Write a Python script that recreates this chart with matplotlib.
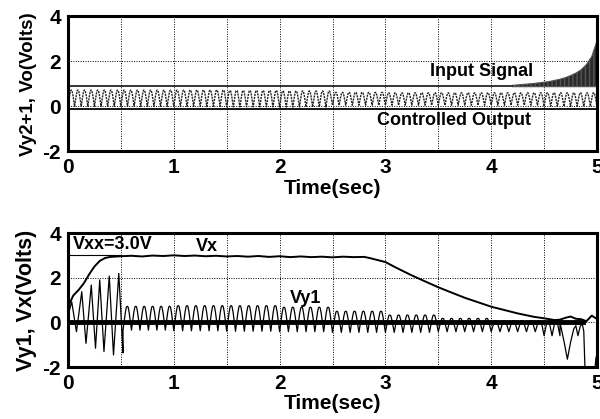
import matplotlib
matplotlib.use("Agg")
import matplotlib.pyplot as plt
import numpy as np

plt.rcParams['font.family'] = ['Liberation Sans', 'DejaVu Sans']
plt.rcParams['font.weight'] = 'bold'
plt.rcParams['axes.unicode_minus'] = False

# ---- top panel: Vy2+1 (input signal) and Vo (controlled output) ----
x_ticks = [0, 1, 2, 3, 4, 5]
y_ticks = [-2, 0, 2, 4]

input_level = 0.9
input_t = [0.0, 4.2]
env_t = [4.2, 4.25, 4.3, 4.35, 4.4, 4.45, 4.5, 4.55, 4.6, 4.65, 4.7, 4.75, 4.8,
         4.85, 4.9, 4.95, 5.0]
env_top = [0.93, 0.95, 0.97, 0.99, 1.01, 1.04, 1.07, 1.1, 1.15, 1.2, 1.27, 1.36,
           1.47, 1.62, 1.85, 2.2, 2.9]
env_low = 0.87
base_level = -0.13

# controlled output: per half-second segment, cycles and extreme values
vo_bounds = [0.0, 0.5, 1.0, 1.5, 2.0, 2.5, 3.0, 3.5, 4.0, 4.5, 5.0]
vo_cycles = [8, 8, 8, 8, 8, 8, 8, 8, 8, 8]
vo_peak = [0.72, 0.72, 0.72, 0.7, 0.68, 0.62, 0.6, 0.6, 0.6, 0.6]
vo_trough = [0.0, 0.0, 0.0, -0.02, -0.03, 0.05, 0.05, 0.05, 0.05, 0.0]

# ---- bottom panel: Vy1 and Vx ----
vxx = 3.0
vy1_start_t = [0.0, 0.035, 0.08, 0.13, 0.17, 0.22, 0.26, 0.30, 0.34, 0.39, 0.43,
               0.48, 0.52]
vy1_start_v = [0.3, 0.92, -0.42, 1.37, -0.94, 1.67, -1.16, 1.9, -1.31, 2.07,
               -1.46, 2.19, -1.37]
vy1_bounds = [0.52, 1.0, 1.5, 2.0, 2.5, 3.0, 3.5, 4.0, 4.5, 4.65]
vy1_cycles = [6, 6, 6, 6, 6, 6, 6, 6, 2]
vy1_peak = [0.72, 0.75, 0.75, 0.68, 0.5, 0.33, 0.18, 0.08, 0.05]
vy1_trough = [-0.35, -0.38, -0.4, -0.42, -0.45, -0.45, -0.42, -0.42, -0.6]
vy1_tail_t = [4.65, 4.69, 4.72, 4.75, 4.78, 4.8, 4.82, 4.84, 4.86, 4.875, 4.89,
              4.97, 4.99, 5.0]
vy1_tail_v = [0.0, -0.9, -1.65, -0.9, -0.3, -0.15, -0.6, -0.2, -0.05, -0.4,
              -2.6, -2.6, -1.6, -1.4]
zero_t = [0.0, 4.87]

vx_t = [0.0, 0.02, 0.05, 0.1, 0.15, 0.2, 0.25, 0.3, 0.35, 0.4, 0.5, 0.6, 0.7, 0.8,
        0.9, 1.0, 1.1, 1.2, 1.3, 1.4, 1.5, 1.6, 1.7, 1.8, 1.9, 2.0, 2.1, 2.2, 2.3,
        2.4, 2.5, 2.6, 2.7, 2.8, 2.85, 2.9, 3.0, 3.1, 3.25, 3.4, 3.5, 3.6, 3.75,
        3.9, 4.0, 4.1, 4.25, 4.4, 4.5, 4.6, 4.65, 4.7, 4.75, 4.8, 4.85, 4.9,
        4.95, 5.0]
vx_v = [0.6, 0.9, 1.2, 1.45, 1.75, 2.15, 2.5, 2.75, 2.88, 2.93, 2.96, 2.98, 2.95,
        2.99, 2.97, 3.0, 2.97, 2.99, 2.96, 2.98, 2.95, 2.97, 2.94, 2.97, 2.93,
        2.96, 2.92, 2.95, 2.92, 2.94, 2.91, 2.94, 2.92, 2.93, 2.88, 2.82, 2.7,
        2.45, 2.1, 1.78, 1.57, 1.38, 1.1, 0.86, 0.7, 0.58, 0.4, 0.25, 0.18, 0.1,
        0.12, 0.2, 0.26, 0.16, 0.14, 0.05, 0.3, 0.15]

# shape of one cycle (fraction of period, fraction of swing), gives rounded arches
arch_pos = [0.0, 0.28, 0.4, 0.5, 0.6, 0.72]
arch_amp = [0.0, 0.75, 0.97, 1.0, 0.97, 0.75]


def arches(bounds, cycles, peaks, troughs):
    ts, vs = [], []
    for i in range(len(cycles)):
        dt = (bounds[i + 1] - bounds[i]) / cycles[i]
        for k in range(cycles[i]):
            t0 = bounds[i] + k * dt
            for p, a in zip(arch_pos, arch_amp):
                ts.append(t0 + p * dt)
                vs.append(troughs[i] + a * (peaks[i] - troughs[i]))
    ts.append(bounds[-1])
    vs.append(troughs[-1])
    return ts, vs


def style_axes(ax, ylabel, ysize):
    ax.set_xlim(0, 5)
    ax.set_ylim(-2, 4)
    ax.set_xticks(x_ticks)
    ax.set_xticks([0.5, 1.5, 2.5, 3.5, 4.5], minor=True)
    ax.set_yticks(y_ticks)
    ax.tick_params(which='both', length=0, labelsize=15, pad=5)
    ax.grid(True, which='both', axis='x', ls=(0, (1, 1.5)), color='k', lw=0.7)
    ax.grid(True, which='major', axis='y', ls=(0, (1, 1.5)), color='k', lw=0.7)
    ax.set_axisbelow(True)
    for s in ax.spines.values():
        s.set_linewidth(2.2)
    ax.set_xlabel('Time(sec)', fontsize=15, fontweight='bold', labelpad=1)
    ax.set_ylabel(ylabel, fontsize=ysize, fontweight='bold', labelpad=4)
    for lab in ax.get_xticklabels() + ax.get_yticklabels():
        lab.set_fontweight('bold')


fig = plt.figure(figsize=(6, 4.19), dpi=100)
ax1 = fig.add_axes([68 / 600, 1 - 151.5 / 419, 529 / 600, 135.5 / 419])
ax2 = fig.add_axes([68 / 600, 1 - 367 / 419, 529 / 600, 134 / 419])

# top
ax1.plot(input_t, [input_level] * 2, color='k', lw=1.1)
ax1.fill_between(env_t, env_low, env_top, color='#2a2a2a', lw=0.8,
                 hatch='||||', edgecolor='#555555')
ax1.plot([0, 5], [base_level] * 2, color='k', lw=1.3)
t, v = arches(vo_bounds, vo_cycles, vo_peak, vo_trough)
ax1.plot(t, v, color='#222222', lw=1.0, ls=(0, (1.5, 0.7)))
ax1.text(3.91, 1.56, 'Input Signal', fontsize=13, fontweight='bold',
         ha='center', va='center')
ax1.text(3.65, -0.62, 'Controlled Output', fontsize=13, fontweight='bold',
         ha='center', va='center')
style_axes(ax1, 'Vy2+1, Vo(Volts)', 13.5)

# bottom
ax2.plot([0, 0.5], [vxx, vxx], color='k', lw=0.8)
ax2.plot(zero_t, [0, 0], color='k', lw=3.5)
t, v = arches(vy1_bounds, vy1_cycles, vy1_peak, vy1_trough)
ax2.plot(vy1_start_t + t + vy1_tail_t, vy1_start_v + v + vy1_tail_v,
         color='k', lw=0.9)
ax2.plot(vx_t, vx_v, color='k', lw=1.4)
ax2.text(0.05, 3.5, 'Vxx=3.0V', fontsize=13, fontweight='bold',
         ha='left', va='center')
ax2.text(1.31, 3.39, 'Vx', fontsize=13, fontweight='bold', ha='center',
         va='center')
ax2.text(2.25, 1.05, 'Vy1', fontsize=13, fontweight='bold', ha='center',
         va='center')
style_axes(ax2, 'Vy1, Vx(Volts)', 15.5)

fig.savefig('out.png', dpi=100)
